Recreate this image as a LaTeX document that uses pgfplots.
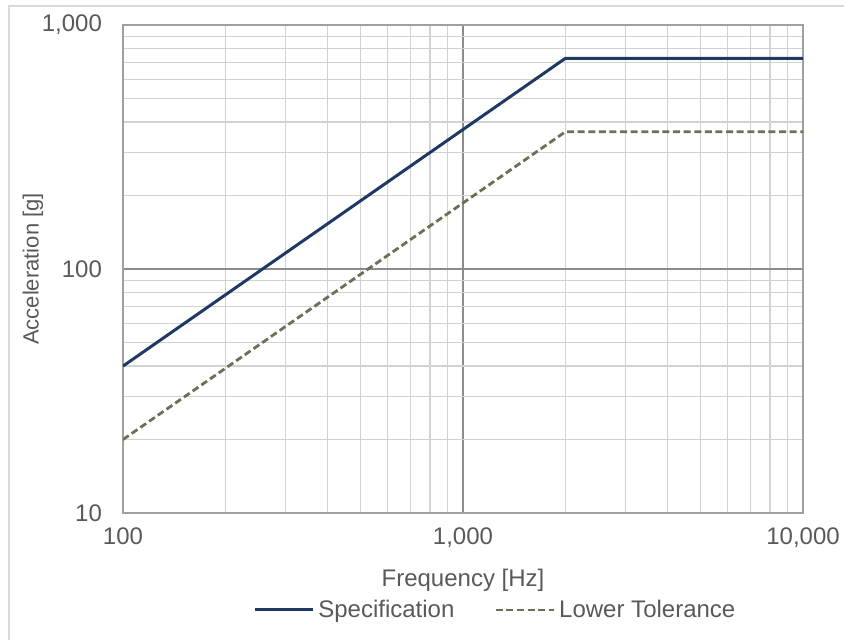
\documentclass[border=0pt]{standalone}
\usepackage{pgfplots}
\pgfplotsset{compat=1.18}
\usepackage{fontspec}
\setmainfont{Liberation Sans}
\definecolor{txt}{HTML}{595959}
\definecolor{spec}{HTML}{1F3864}
\definecolor{tol}{HTML}{6E6E58}
\begin{document}
\begin{tikzpicture}
\path[use as bounding box] (-61.5pt,-63.5pt) rectangle (360.5pt,256.5pt);
\draw[color={rgb,255:red,217;green,217;blue,217}, line width=0.8pt] (-57pt,-63.5pt) -- (-57pt,253.5pt) -- (360.5pt,253.5pt);
\begin{axis}[
  at={(0pt,0pt)}, anchor=south west,
  scale only axis, width=340pt, height=244pt,
  xmode=log, ymode=log,
  xmin=100, xmax=10000, ymin=10, ymax=1000,
  xtick={100,1000,10000}, xticklabels={100,{1,000},{10,000}},
  ytick={10,100,1000}, yticklabels={10,100,{1,000}},
  major tick length=0pt, minor tick length=0pt,
  grid=both,
  major grid style={color={rgb,255:red,140;green,140;blue,140}, line width=0.7pt},
  minor grid style={color={rgb,255:red,210;green,210;blue,210}, line width=0.6pt},
  axis line style={color={rgb,255:red,160;green,160;blue,160}, line width=0.8pt},
  tick label style={font=\fontsize{12}{14}\selectfont, text=txt},
  xticklabel style={yshift=-4pt},
  yticklabel style={xshift=-7pt},
  xlabel={Frequency [Hz]}, ylabel={Acceleration [g]},
  xlabel style={font=\fontsize{12}{14}\selectfont, text=txt, at={(axis description cs:0.5,0)}, anchor=center, yshift=-33.5pt},
  ylabel style={font=\fontsize{11}{13}\selectfont, text=txt, at={(axis description cs:0,0.5)}, anchor=center, rotate=0, yshift=45pt},
  legend columns=2,
  legend style={draw=none, fill=none, at={(0.549,0)}, anchor=center, yshift=-48.5pt,
    font=\fontsize{12}{14}\selectfont, text=txt,
    /tikz/every even column/.append style={column sep=18pt}},
  legend image code/.code={\draw[#1] (0pt,0pt) -- (29pt,0pt);},
  legend cell align=left,
]
\addplot[spec, line width=1.5pt] coordinates {(100,40) (2000,730) (10000,730)};
\addlegendentry{Specification}
\addplot[tol, line width=1.4pt, dash pattern=on 3.5pt off 1.8pt] coordinates {(100,20) (2000,365) (10000,365)};
\addlegendentry{Lower Tolerance}
\end{axis}
\end{tikzpicture}
\end{document}
